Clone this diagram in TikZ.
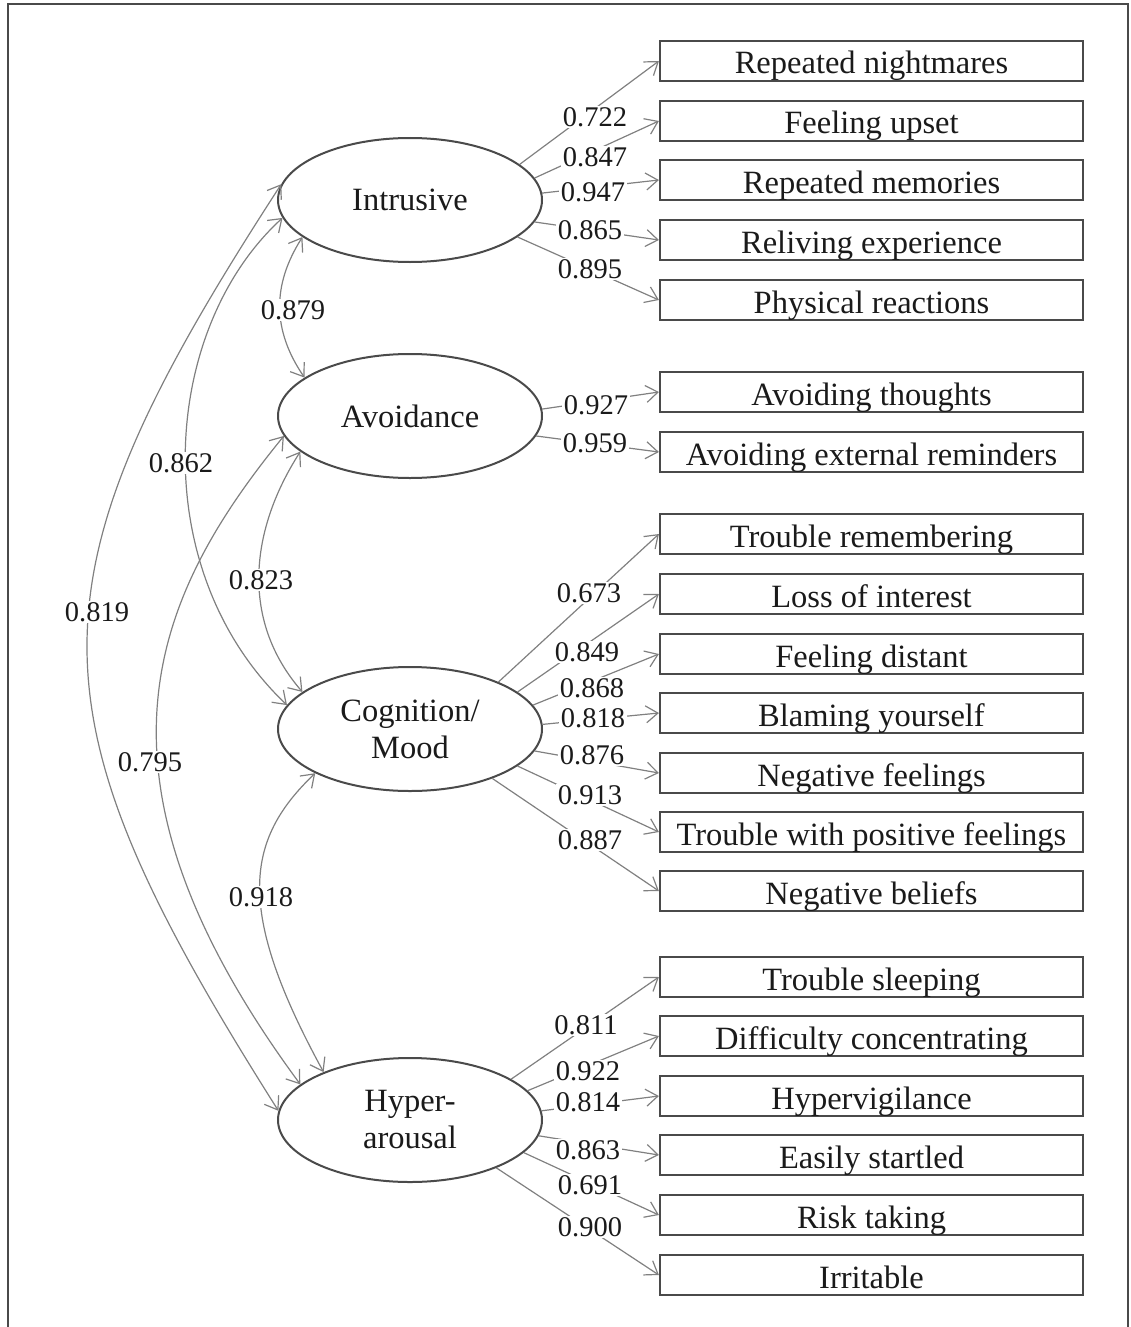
\documentclass[tikz,border=0pt]{standalone}
\usepackage{fontspec}
\setmainfont{Liberation Serif}
\usetikzlibrary{shapes.geometric,arrows.meta}
\definecolor{linec}{HTML}{808080}
\definecolor{boxc}{HTML}{4A4A4A}
\definecolor{txt}{HTML}{1A1A1A}
\begin{document}
\begin{tikzpicture}[x=1pt,y=-1pt,
  box/.style={draw=boxc, line width=2.2pt, minimum width=423pt, minimum height=40pt, inner sep=0pt, text height=26pt, text depth=0pt, text=txt, font=\fontsize{32.5}{34}\selectfont},
  lat/.style={draw=boxc, line width=2pt, ellipse, minimum width=264pt, minimum height=124pt, inner sep=0pt, align=center, text=txt, font=\fontsize{32.5}{37}\selectfont},
  link/.style={draw=linec, line width=1.2pt, -{Straight Barb[length=12pt,width=17pt]}},
  corr/.style={draw=linec, line width=1.2pt, {Straight Barb[length=12pt,width=17pt]}-{Straight Barb[length=12pt,width=17pt]}},
  lbl/.style={fill=white, inner sep=1.5pt, text=txt, font=\fontsize{28.5}{30}\selectfont},
  framel/.style={draw=boxc, line width=2.5pt}]
\useasboundingbox (0,0) rectangle (1131,1327);
\draw[framel] (8,1330) -- (8,4) -- (1128,4) -- (1128,1330);

% latent variables
\node[lat] (I) at (410,200) {Intrusive};
\node[lat] (A) at (410,416) {Avoidance};
\node[lat] (C) at (410,729) {Cognition/\\Mood};
\node[lat] (H) at (410,1120) {Hyper-\\arousal};

% indicators
\node[box] (b1)  at (871.5,61)   {Repeated nightmares};
\node[box] (b2)  at (871.5,121)  {Feeling upset};
\node[box] (b3)  at (871.5,180)  {Repeated memories};
\node[box] (b4)  at (871.5,240)  {Reliving experience};
\node[box] (b5)  at (871.5,300)  {Physical reactions};
\node[box] (b6)  at (871.5,392)  {Avoiding thoughts};
\node[box] (b7)  at (871.5,452)  {Avoiding external reminders};
\node[box] (b8)  at (871.5,534)  {Trouble remembering};
\node[box] (b9)  at (871.5,594)  {Loss of interest};
\node[box] (b10) at (871.5,654)  {Feeling distant};
\node[box] (b11) at (871.5,713)  {Blaming yourself};
\node[box] (b12) at (871.5,773)  {Negative feelings};
\node[box] (b13) at (871.5,832)  {Trouble with positive feelings};
\node[box] (b14) at (871.5,891)  {Negative beliefs};
\node[box] (b15) at (871.5,977)  {Trouble sleeping};
\node[box] (b16) at (871.5,1036) {Difficulty concentrating};
\node[box] (b17) at (871.5,1096) {Hypervigilance};
\node[box] (b18) at (871.5,1155) {Easily startled};
\node[box] (b19) at (871.5,1215) {Risk taking};
\node[box] (b20) at (871.5,1275) {Irritable};

% loadings: Intrusive
\draw[link] (I.18)  -- (b1.west) node[lbl] (l1) at (595,117) {0.722};
\draw[link] (I.10)  -- (b2.west) node[lbl] (l2) at (595,157) {0.847};
\draw[link] (I.3)   -- (b3.west) node[lbl] (l3) at (593,192) {0.947};
\draw[link] (I.-10) -- (b4.west) node[lbl] (l4) at (590,230) {0.865};
\draw[link] (I.-19) -- (b5.west) node[lbl] (l5) at (590,269) {0.895};
% Avoidance
\draw[link] (A.3)  -- (b6.west) node[lbl] (l6) at (596,405) {0.927};
\draw[link] (A.-9) -- (b7.west) node[lbl] (l7) at (595,443) {0.959};
% Cognition/Mood
\draw[link] (C.28)  -- (b8.west)  node[lbl] (l8)  at (589,593) {0.673};
\draw[link] (C.19)  -- (b9.west)  node[lbl] (l9)  at (587,652) {0.849};
\draw[link] (C.11)  -- (b10.west) node[lbl] (l10) at (592,688) {0.868};
\draw[link] (C.2)   -- (b11.west) node[lbl] (l11) at (593,718) {0.818};
\draw[link] (C.-10) -- (b12.west) node[lbl] (l12) at (592,755) {0.876};
\draw[link] (C.-19) -- (b13.west) node[lbl] (l13) at (590,795) {0.913};
\draw[link] (C.-31) -- (b14.west) node[lbl] (l14) at (590,840) {0.887};
% Hyper-arousal
\draw[link] (H.22)  -- (b15.west) node[lbl] (l15) at (586,1025) {0.811};
\draw[link] (H.14)  -- (b16.west) node[lbl] (l16) at (588,1071) {0.922};
\draw[link] (H.4)   -- (b17.west) node[lbl] (l17) at (588,1102) {0.814};
\draw[link] (H.-7)  -- (b18.west) node[lbl] (l18) at (588,1150) {0.863};
\draw[link] (H.-16) -- (b19.west) node[lbl] (l19) at (590,1185) {0.691};
\draw[link] (H.-29) -- (b20.west) node[lbl] (l20) at (590,1227) {0.900};

% correlations
\draw[corr] (I.199) .. controls (272,285) and (272,330) .. (A.160) node[lbl] (r1) at (293,310) {0.879};
\draw[corr] (I.188) .. controls (160,330) and (145,570) .. (C.169) node[lbl] (r2) at (181,463) {0.862};
\draw[corr] (I.173) .. controls (23,582) and (23,707) .. (H.176) node[lbl] (r3) at (97,612) {0.819};
\draw[corr] (A.198) .. controls (250,530) and (240,620) .. (C.161) node[lbl] (r4) at (261,580) {0.823};
\draw[corr] (A.189) .. controls (150,600) and (75,779) .. (H.162) node[lbl] (r5) at (150,762) {0.795};
\draw[corr] (C.205) .. controls (245,840) and (235,910) .. (H.151) node[lbl] (r6) at (261,897) {0.918};
\end{tikzpicture}
\end{document}
